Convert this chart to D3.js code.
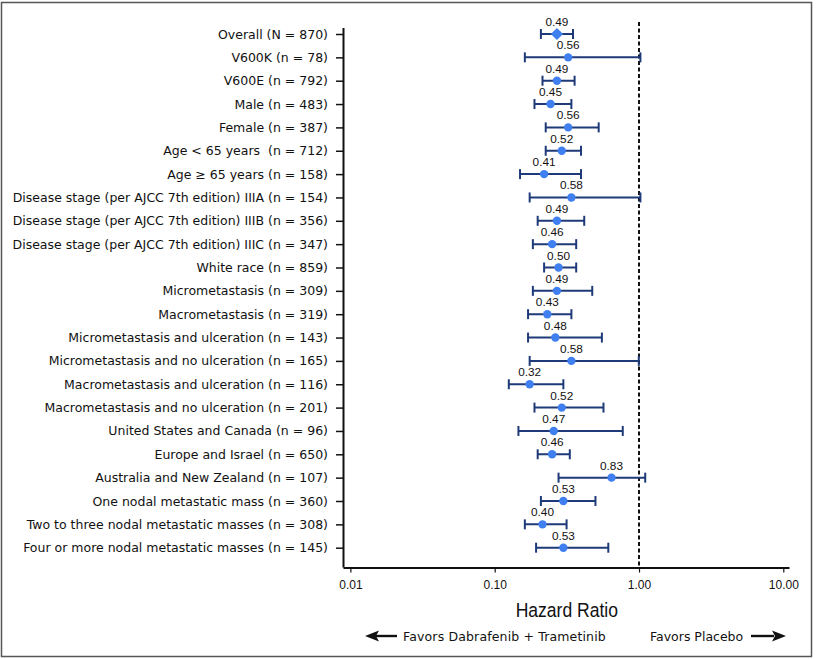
<!DOCTYPE html>
<html>
<head>
<meta charset="utf-8">
<script src="https://cdn.jsdelivr.net/npm/d3@7"></script>
<style>
  body { margin: 0; background: #fff; }
  text { font-family: "Liberation Sans", Arial, Helvetica, sans-serif; fill: #111; }
  .wide { font-family: "DejaVu Sans", "Liberation Sans", Arial, sans-serif; }
</style>
</head>
<body>
<div id="forest-chart"></div>
<script>
// Subgroups (top to bottom)
const categories = [
  "Overall (N = 870)",
  "V600K (n = 78)",
  "V600E (n = 792)",
  "Male (n = 483)",
  "Female (n = 387)",
  "Age < 65 years \u00a0(n = 712)",
  "Age \u2265 65 years (n = 158)",
  "Disease stage (per AJCC 7th edition) IIIA (n = 154)",
  "Disease stage (per AJCC 7th edition) IIIB (n = 356)",
  "Disease stage (per AJCC 7th edition) IIIC (n = 347)",
  "White race (n = 859)",
  "Micrometastasis (n = 309)",
  "Macrometastasis (n = 319)",
  "Micrometastasis and ulceration (n = 143)",
  "Micrometastasis and no ulceration (n = 165)",
  "Macrometastasis and ulceration (n = 116)",
  "Macrometastasis and no ulceration (n = 201)",
  "United States and Canada (n = 96)",
  "Europe and Israel (n = 650)",
  "Australia and New Zealand (n = 107)",
  "One nodal metastatic mass (n = 360)",
  "Two to three nodal metastatic masses (n = 308)",
  "Four or more nodal metastatic masses (n = 145)"
];
const hazardRatio = [0.49, 0.56, 0.49, 0.45, 0.56, 0.52, 0.41, 0.58, 0.49, 0.46, 0.50, 0.49,
  0.43, 0.48, 0.58, 0.32, 0.52, 0.47, 0.46, 0.83, 0.53, 0.40, 0.53];
const ciLower = [0.39, 0.29, 0.40, 0.35, 0.42, 0.42, 0.26, 0.32, 0.37, 0.34, 0.41, 0.34,
  0.31, 0.31, 0.32, 0.19, 0.35, 0.25, 0.37, 0.50, 0.39, 0.29, 0.36];
const ciUpper = [0.59, 1.01, 0.60, 0.58, 0.75, 0.64, 0.64, 1.01, 0.66, 0.61, 0.61, 0.71,
  0.58, 0.77, 1.00, 0.53, 0.78, 0.90, 0.57, 1.04, 0.73, 0.55, 0.81];
const axisTicks = [0.01, 0.1, 1, 10];

const drawChart = () => {
  d3.select("#forest-chart").html("");

  const W = 816, H = 659;
  const margin = { top: 28, right: 27, bottom: 92, left: 343 };

  const svg = d3.select("#forest-chart")
    .append("svg")
    .attr("width", W)
    .attr("height", H);

  // Outer frame
  svg.append("rect")
    .attr("x", 1.5).attr("y", 2.5)
    .attr("width", 810).attr("height", 654)
    .attr("fill", "none")
    .attr("stroke", "#555")
    .attr("stroke-width", 1.5);

  const plotBottom = H - margin.bottom + 0.5;

  // Scales
  const xLog = d3.scaleLog()
    .domain([0.00889, 10.95])
    .range([margin.left, W - margin.right]);

  // Points are placed linearly between 0 and 1 (as in the original figure)
  const xHr = d3.scaleLinear()
    .domain([0, 1])
    .range([478.3, 638.8]);

  const y = d3.scalePoint()
    .domain(categories)
    .range([34, 547.7]);

  // Reference line at HR = 1
  svg.append("line")
    .attr("x1", xLog(1)).attr("x2", xLog(1))
    .attr("y1", 22).attr("y2", plotBottom)
    .attr("stroke", "#111")
    .attr("stroke-width", 2)
    .attr("stroke-dasharray", "4,2.5");

  // Left axis with subgroup labels
  const yAxis = svg.append("g")
    .attr("transform", `translate(${margin.left},0)`)
    .call(d3.axisLeft(y).tickSize(7).tickPadding(8).tickSizeOuter(0));
  yAxis.select(".domain")
    .attr("d", `M0.5,${margin.top}V${plotBottom}`)
    .attr("stroke", "#111").attr("stroke-width", 2);
  yAxis.selectAll(".tick line").attr("stroke", "#111").attr("stroke-width", 1.5);
  yAxis.selectAll(".tick text")
    .attr("class", "wide")
    .style("font-size", "12.5px")
    .attr("fill", "#111");
  yAxis.attr("font-family", null);

  // Bottom axis
  const xAxis = svg.append("g")
    .attr("transform", `translate(0,${plotBottom})`)
    .call(d3.axisBottom(xLog)
      .tickValues(axisTicks)
      .tickFormat(d3.format(".2f"))
      .tickSize(5)
      .tickPadding(8)
      .tickSizeOuter(0));
  xAxis.attr("font-family", null);
  xAxis.select(".domain").attr("stroke", "#111").attr("stroke-width", 2);
  xAxis.selectAll(".tick line").attr("stroke", "#111").attr("stroke-width", 1.2);
  xAxis.selectAll(".tick text").style("font-size", "12px").attr("fill", "#111");

  // Confidence intervals
  const rows = categories.map((c, i) => ({
    label: c, hr: hazardRatio[i], lo: ciLower[i], hi: ciUpper[i], overall: i === 0
  }));

  const ci = svg.append("g").attr("stroke", "#1f3a78").attr("stroke-width", 2);
  ci.selectAll(".ci")
    .data(rows)
    .join("line")
    .attr("x1", d => xHr(d.lo))
    .attr("x2", d => xHr(d.hi))
    .attr("y1", d => y(d.label))
    .attr("y2", d => y(d.label));
  ci.selectAll(".cap-lo")
    .data(rows)
    .join("line")
    .attr("x1", d => xHr(d.lo)).attr("x2", d => xHr(d.lo))
    .attr("y1", d => y(d.label) - 5).attr("y2", d => y(d.label) + 5);
  ci.selectAll(".cap-hi")
    .data(rows)
    .join("line")
    .attr("class", "cap-hi")
    .attr("x1", d => xHr(d.hi)).attr("x2", d => xHr(d.hi))
    .attr("y1", d => y(d.label) - 5).attr("y2", d => y(d.label) + 5);

  // Points
  svg.selectAll(".pt")
    .data(rows.filter(d => !d.overall))
    .join("circle")
    .attr("cx", d => xHr(d.hr))
    .attr("cy", d => y(d.label))
    .attr("r", 4.2)
    .attr("fill", "#3f7ff0");

  svg.selectAll(".diamond")
    .data(rows.filter(d => d.overall))
    .join("path")
    .attr("d", d3.symbol().type(d3.symbolDiamond2).size(95))
    .attr("transform", d => `translate(${xHr(d.hr)},${y(d.label)})`)
    .attr("fill", "#3f7ff0");

  // Value labels
  svg.selectAll(".val")
    .data(rows)
    .join("text")
    .attr("x", d => xHr(d.hr))
    .attr("y", d => y(d.label) - 8)
    .attr("text-anchor", "middle")
    .style("font-size", "11.8px")
    .text(d => d3.format(".2f")(d.hr));

  // Axis title
  const midX = (xLog(0.1) + xLog(1)) / 2;
  svg.append("text")
    .attr("x", midX)
    .attr("y", 617)
    .attr("text-anchor", "middle")
    .style("font-size", "19.5px")
    .attr("transform", `translate(${midX},0) scale(0.9,1) translate(${-midX},0)`)
    .text("Hazard Ratio");

  // Favors labels with arrows
  const arrowY = 636;
  svg.append("text")
    .attr("class", "wide")
    .attr("x", 403).attr("y", arrowY + 4.5)
    .style("font-size", "12.5px")
    .style("letter-spacing", "0.15px")
    .text("Favors Dabrafenib + Trametinib");
  svg.append("text")
    .attr("class", "wide")
    .attr("x", 650).attr("y", arrowY + 4.5)
    .style("font-size", "12.5px")
    .text("Favors Placebo");

  const arrows = svg.append("g").attr("fill", "#111").attr("stroke", "#111");
  arrows.append("line")
    .attr("x1", 376).attr("x2", 397).attr("y1", arrowY).attr("y2", arrowY)
    .attr("stroke-width", 2.4);
  arrows.append("path")
    .attr("d", `M365,${arrowY}L379,${arrowY - 5.5}L376,${arrowY}L379,${arrowY + 5.5}Z`)
    .attr("stroke", "none");
  arrows.append("line")
    .attr("x1", 751).attr("x2", 774).attr("y1", arrowY).attr("y2", arrowY)
    .attr("stroke-width", 2.4);
  arrows.append("path")
    .attr("d", `M786,${arrowY}L772,${arrowY - 5.5}L775,${arrowY}L772,${arrowY + 5.5}Z`)
    .attr("stroke", "none");
};

drawChart();
</script>
</body>
</html>
